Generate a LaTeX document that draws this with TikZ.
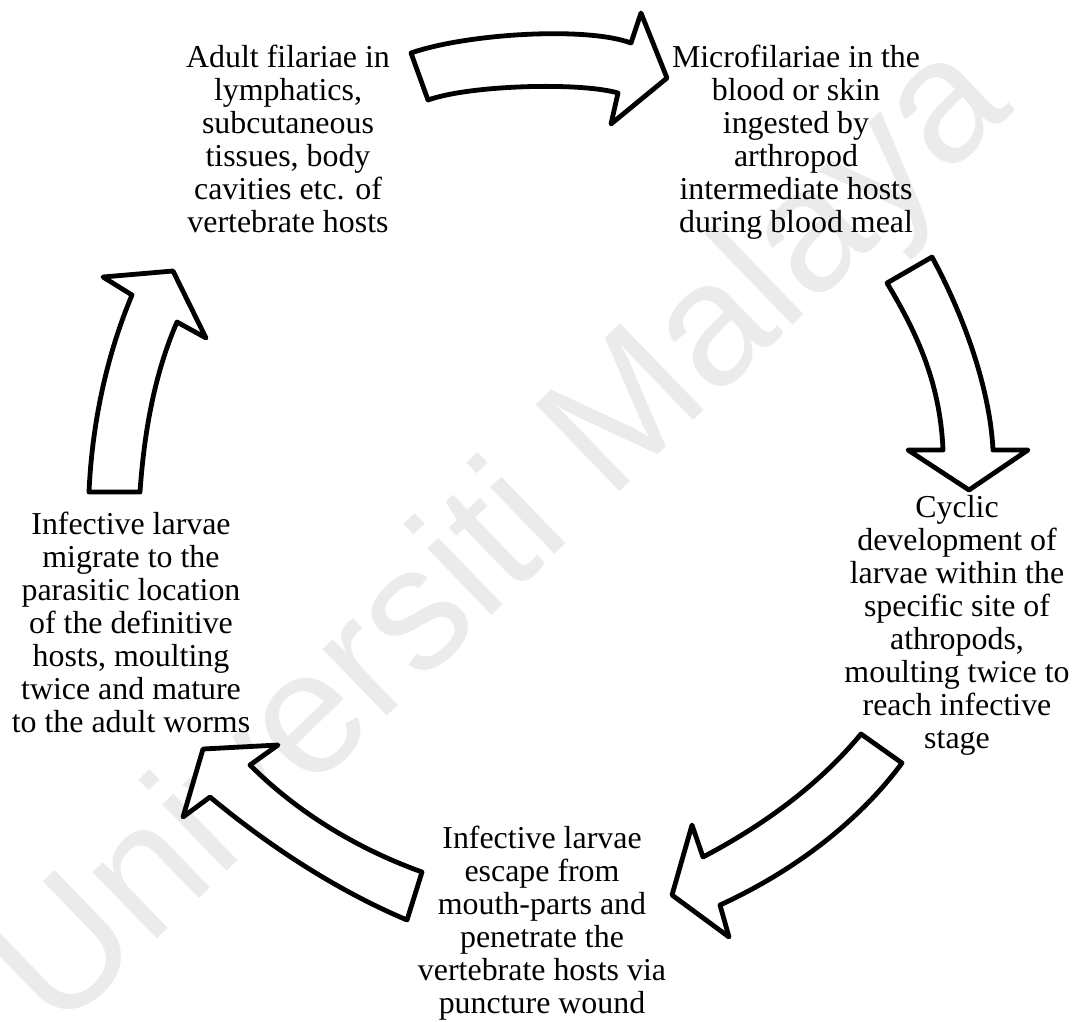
\documentclass[tikz,border=0pt]{standalone}
\usepackage{fontspec}
\setmainfont{Liberation Serif}
\newfontfamily\wmfont{Liberation Sans}
\begin{document}
\begin{tikzpicture}[x=1pt,y=-1pt,
  bigarrow/.style={draw=black,line width=4.8pt,line join=round,fill=white},
  label/.style={align=center,inner sep=0pt,font=\fontsize{31.9}{33}\selectfont},
  watermark/.style={inner sep=0pt,text=black!8,font=\wmfont\fontsize{175}{175}\selectfont}]
\useasboundingbox (0,0) rectangle (1075,1021);
\fill[white] (0,0) rectangle (1075,1021);
% watermark
\node[watermark,rotate=44] (wm) at (505,540) {Universiti Malaya};
% text blocks
\node[label] (adult) at (288,139) {Adult filariae in\\lymphatics,\\subcutaneous\\tissues, body\\cavities etc. of\\vertebrate hosts};
\node[label] (micro) at (796,142) {Microfilariae in the\\blood or skin\\ingested by\\arthropod\\intermediate hosts\\during blood meal};
\node[label] (cyclic) at (957,625) {Cyclic\\development of\\larvae within the\\specific site of\\athropods,\\moulting twice to\\reach infective\\stage};
\node[label] (escape) at (542,923) {Infective larvae\\escape from\\mouth-parts and\\penetrate the\\vertebrate hosts via\\puncture wound};
\node[label] (migrate) at (131,622) {Infective larvae\\migrate to the\\parasitic location\\of the definitive\\hosts, moulting\\twice and mature\\to the adult worms};
% arrow 1: adult -> micro
\draw[bigarrow] (411,53) .. controls (465,34) and (585,26) .. (631,43)
  -- (641,13) -- (667,78) -- (611,124) -- (618,93)
  .. controls (580,82) and (470,85) .. (428,100) -- cycle;
% arrow 2: micro -> cyclic
\draw[bigarrow] (887,283) -- (932,257)
  .. controls (965,318) and (990,390) .. (993,450)
  -- (1028,450) -- (969,490) -- (908,450) -- (943,450)
  .. controls (940,380) and (915,330) .. (887,283) -- cycle;
% arrow 3: cyclic -> escape
\draw[bigarrow] (861,734) .. controls (818,786) and (762,826) .. (703,857)
  -- (692,825) -- (672,895) -- (729,937) -- (720,905)
  .. controls (790,873) and (856,825) .. (902,763) -- cycle;
% arrow 4: escape -> migrate
\draw[bigarrow] (422,872) .. controls (358,849) and (298,813) .. (250,765)
  -- (278,745) -- (203,749) -- (183,817) -- (210,797)
  .. controls (269,846) and (336,890) .. (407,920) -- cycle;
% arrow 5: migrate -> adult
\draw[bigarrow] (89,492) .. controls (92,425) and (106,357) .. (132,295)
  -- (103,277) -- (173,271) -- (206,338) -- (177,322)
  .. controls (154,375) and (144,434) .. (140,492) -- cycle;
\end{tikzpicture}
\end{document}
